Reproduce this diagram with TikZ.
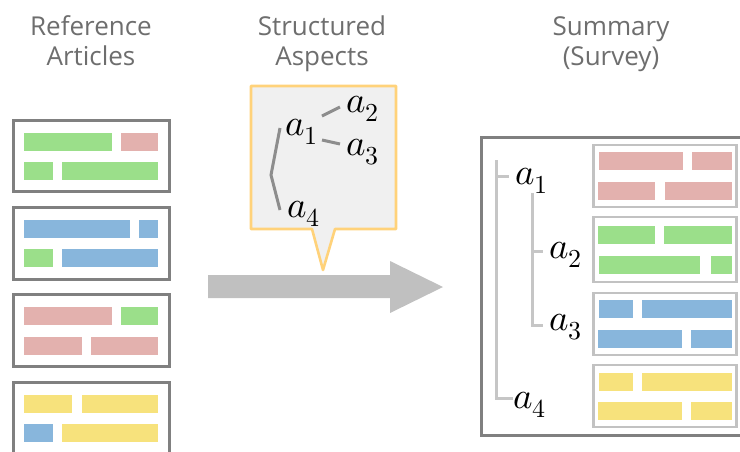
\documentclass[tikz,border=0pt]{standalone}
\usepackage{fontspec}
\setmainfont{Open Sans}
\usepackage{unicode-math}
\setmathfont{Latin Modern Math}
\definecolor{titlegray}{HTML}{6E6E6E}
\definecolor{framegray}{HTML}{808080}
\definecolor{lightframe}{HTML}{C2C2C2}
\definecolor{treegray}{HTML}{C6C6C6}
\definecolor{calloutline}{HTML}{FFD27A}
\definecolor{calloutfill}{HTML}{F0F0F0}
\definecolor{arrowgray}{HTML}{C0C0C0}
\definecolor{bgreen}{HTML}{9BDF8A}
\definecolor{bpink}{HTML}{E3B1AE}
\definecolor{bblue}{HTML}{88B6DC}
\definecolor{byellow}{HTML}{F7E27C}
\tikzset{
  title/.style={font=\fontsize{26}{30}\selectfont, text=titlegray, inner sep=0pt, anchor=base},
  article/.style={draw=framegray, line width=3pt, fill=white},
  section/.style={draw=lightframe, line width=2.6pt, fill=white},
  aspect/.style={font=\fontsize{37}{40}\selectfont, inner sep=0pt, anchor=base west},
  treeline/.style={draw=treegray, line width=3pt},
  calltree/.style={draw=framegray!90, line width=3pt},
}
% a bar of text: \bar{colour}{x1}{y1}{x2}{y2}
\newcommand{\txtbar}[5]{\fill[#1] (#2,#3) rectangle (#4,#5);}
\begin{document}
\begin{tikzpicture}[x=1pt,y=-1pt]
\useasboundingbox (0,0) rectangle (740,451);
\clip (0,0) rectangle (740,451);
\fill[white] (0,0) rectangle (740,451);

% column titles
\node[title] (t1a) at (91,35) {Reference};
\node[title] (t1b) at (91,65) {Articles};
\node[title] (t2a) at (322,35) {Structured};
\node[title] (t2b) at (322,65) {Aspects};
\node[title] (t3a) at (611,35) {Summary};
\node[title] (t3b) at (611,65) {(Survey)};

% reference articles
\draw[article] (13,120.5) rectangle (169,191.5);
\txtbar{bgreen}{24}{133}{112}{151}
\txtbar{bpink}{121}{133}{158}{151}
\txtbar{bgreen}{24}{162}{53}{180}
\txtbar{bgreen}{62}{162}{158}{180}

\draw[article] (13,207.5) rectangle (169,279.5);
\txtbar{bblue}{24}{220}{130}{238}
\txtbar{bblue}{139}{220}{158}{238}
\txtbar{bgreen}{24}{249}{53}{267}
\txtbar{bblue}{62}{249}{158}{267}

\draw[article] (13,294.5) rectangle (169,366.5);
\txtbar{bpink}{24}{307}{112}{325}
\txtbar{bgreen}{121}{307}{158}{325}
\txtbar{bpink}{24}{337}{82}{355}
\txtbar{bpink}{91}{337}{158}{355}

\draw[article] (13,382.5) rectangle (169,470);
\txtbar{byellow}{24}{395}{72}{413}
\txtbar{byellow}{82}{395}{158}{413}
\txtbar{bblue}{24}{424}{53}{442}
\txtbar{byellow}{62}{424}{158}{442}

% main arrow
\fill[arrowgray] (208,275) -- (390,275) -- (390,261) -- (443,287) -- (390,313) -- (390,298) -- (208,298) -- cycle;

% callout with the aspect tree
\draw[calloutline, fill=calloutfill, line width=2.6pt, line join=round]
  (251,86) -- (396,86) -- (396,229) -- (335,229) -- (323,270) -- (312,229) -- (251,229) -- cycle;
\node[aspect] (c1) at (285,135) {$a_1$};
\node[aspect] (c2) at (346,112) {$a_2$};
\node[aspect] (c3) at (346,155) {$a_3$};
\node[aspect] (c4) at (287,217) {$a_4$};
\coordinate (c1r2) at (322,116);
\coordinate (c2l) at (340,107);
\coordinate (c1r3) at (322,140);
\coordinate (c3l) at (340,144);
\coordinate (c1l) at (280,128);
\coordinate (cmid) at (271,175);
\coordinate (c4l) at (280,210);
\draw[calltree] (c1r2) -- (c2l);
\draw[calltree] (c1r3) -- (c3l);
\draw[calltree] (c1l) -- (cmid) -- (c4l);

% summary panel
\draw[framegray, line width=3pt] (481.5,137.5) rectangle (760,435.5);

\draw[section] (593.5,145) rectangle (736.5,207);
\txtbar{bpink}{599}{152}{683}{170}
\txtbar{bpink}{692}{152}{732}{170}
\txtbar{bpink}{598}{182}{655}{200}
\txtbar{bpink}{665}{182}{732}{200}

\draw[section] (593.5,217) rectangle (736.5,282);
\txtbar{bgreen}{598}{226}{655}{244}
\txtbar{bgreen}{664}{226}{732}{244}
\txtbar{bgreen}{599}{256}{700}{274}
\txtbar{bgreen}{711}{256}{732}{274}

\draw[section] (593.5,293) rectangle (736.5,355);
\txtbar{bblue}{599}{300}{633}{318}
\txtbar{bblue}{642}{300}{732}{318}
\txtbar{bblue}{598}{330}{682}{348}
\txtbar{bblue}{691}{330}{732}{348}

\draw[section] (593.5,365) rectangle (736.5,427);
\txtbar{byellow}{599}{373}{633}{391}
\txtbar{byellow}{642}{373}{732}{391}
\txtbar{byellow}{598}{402}{682}{420}
\txtbar{byellow}{691}{402}{732}{420}

% aspect outline of the summary
\node[aspect] (s1) at (515,184) {$a_1$};
\node[aspect] (s2) at (549,258) {$a_2$};
\node[aspect] (s3) at (549,330) {$a_3$};
\node[aspect] (s4) at (513,408) {$a_4$};
\coordinate (o top) at (496,160);
\coordinate (o1) at (496,176);
\coordinate (o4) at (496,398);
\coordinate (i top) at (532,193);
\coordinate (i2) at (532,251);
\coordinate (i3) at (532,325);
\draw[treeline] (o top) -- (o4) -- (o4 -| s4.west);
\draw[treeline] (o1) -- ([xshift=-6pt]s1.west |- o1);
\draw[treeline] (i top) -- (i3) -- ([xshift=-6pt]s3.west |- i3);
\draw[treeline] (i2) -- ([xshift=-6pt]s2.west |- i2);
\end{tikzpicture}
\end{document}
